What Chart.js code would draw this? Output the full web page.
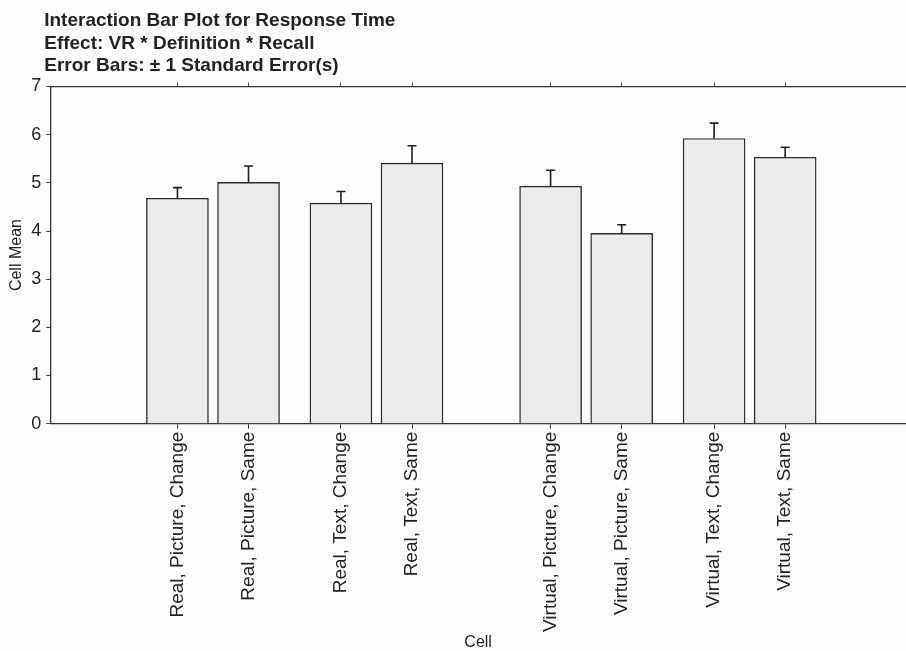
<!DOCTYPE html>
<html>
<head>
<meta charset="utf-8">
<script src="https://cdn.jsdelivr.net/npm/chart.js@4"></script>
<style>
  html, body { margin: 0; padding: 0; background: #fdfdfd; }
  #wrap { width: 906px; height: 651px; }
</style>
</head>
<body>
<div id="wrap"><canvas id="barChart"></canvas></div>
<script>
const titleLines = [
    'Interaction Bar Plot for Response Time',
    'Effect: VR * Definition * Recall',
    'Error Bars: \u00b1 1 Standard Error(s)'
];

// cells, in plot order
const cellLabels = [
    'Real, Picture, Change',
    'Real, Picture, Same',
    'Real, Text, Change',
    'Real, Text, Same',
    'Virtual, Picture, Change',
    'Virtual, Picture, Same',
    'Virtual, Text, Change',
    'Virtual, Text, Same'
];

// slot of each cell on the x axis (pairs, then gap between VR groups)
const cellSlots = [1, 2, 3.3, 4.3, 6.25, 7.25, 8.55, 9.55];

const cellMeans = [4.68, 5.01, 4.58, 5.41, 4.93, 3.95, 5.92, 5.53];
const cellStdErr = [0.22, 0.34, 0.24, 0.36, 0.33, 0.18, 0.32, 0.21];

const yTicks = [0, 1, 2, 3, 4, 5, 6, 7];

const FONT = "'Liberation Sans', Arial, sans-serif";
const INK = '#222222';

// upper error bars, drawn through the chart's scales
const errorBars = {
    id: 'errorBars',
    afterDatasetsDraw(chart) {
        const ctx = chart.ctx;
        const xs = chart.scales.x;
        const ys = chart.scales.y;
        ctx.save();
        ctx.strokeStyle = '#1e1e1e';
        ctx.lineWidth = 1.6;
        for (let i = 0; i < cellMeans.length; i++) {
            const x = xs.getPixelForValue(cellSlots[i]);
            const y0 = ys.getPixelForValue(cellMeans[i]);
            const y1 = ys.getPixelForValue(cellMeans[i] + cellStdErr[i]);
            ctx.beginPath();
            ctx.moveTo(x, y0);
            ctx.lineTo(x, y1);
            ctx.moveTo(x - 4.5, y1);
            ctx.lineTo(x + 4.5, y1);
            ctx.stroke();
        }
        ctx.restore();
    }
};

// title sits a little left of the plot frame
const titleShift = {
    id: 'titleShift',
    afterLayout(chart) {
        if (chart.titleBlock) chart.titleBlock.left -= 6;
    }
};

function slotTicks(scale) {
    scale.ticks = cellSlots.map(v => ({ value: v }));
}

const ctx = document.getElementById('barChart').getContext('2d');
new Chart(ctx, {
    type: 'bar',
    data: {
        datasets: [{
            data: cellMeans.map((m, i) => ({ x: cellSlots[i], y: m })),
            backgroundColor: '#ebebeb',
            borderColor: '#2a2a2a',
            borderWidth: 1.4,
            barThickness: 62
        }]
    },
    options: {
        responsive: true,
        maintainAspectRatio: false,
        animation: false,
        layout: { padding: { left: 3, right: 0, top: 0, bottom: 0 } },
        plugins: {
            legend: { display: false },
            tooltip: { enabled: false },
            title: {
                display: true,
                text: titleLines,
                align: 'start',
                fullSize: false,
                color: INK,
                font: { family: FONT, size: 19, weight: 'bold', lineHeight: 1.184 },
                padding: { top: 10, bottom: 5 }
            }
        },
        scales: {
            x: {
                type: 'linear',
                min: -0.79,
                max: 11.25,
                offset: false,
                afterBuildTicks: slotTicks,
                border: { display: true, color: '#333', width: 1.3 },
                grid: { display: true, offset: false, drawOnChartArea: false, drawTicks: true, tickLength: 5, color: '#333' },
                ticks: {
                    autoSkip: false,
                    minRotation: 90,
                    maxRotation: 90,
                    padding: 3,
                    color: INK,
                    font: { family: FONT, size: 19 },
                    callback: (value) => cellLabels[cellSlots.indexOf(value)]
                },
                title: {
                    display: true,
                    text: 'Cell',
                    color: INK,
                    font: { family: FONT, size: 16, lineHeight: 1.0 },
                    padding: { top: 0, bottom: 0 }
                }
            },
            xTop: {
                type: 'linear',
                position: 'top',
                min: -0.79,
                max: 11.25,
                offset: false,
                afterBuildTicks: slotTicks,
                border: { display: true, color: '#333', width: 1.3 },
                grid: { display: true, offset: false, drawOnChartArea: false, drawTicks: true, tickLength: 4, color: '#555' },
                ticks: { display: false }
            },
            y: {
                min: 0,
                max: 7,
                afterBuildTicks: (scale) => {
                    const t = [];
                    yTicks.forEach(v => {
                        t.push({ value: v });
                        if (v < 7) t.push({ value: v + 0.5 });
                    });
                    scale.ticks = t;
                },
                border: { display: true, color: '#333', width: 1.3 },
                grid: { display: true, drawOnChartArea: false, drawTicks: true, tickLength: 4, color: '#444' },
                ticks: {
                    padding: 5,
                    color: INK,
                    font: { family: FONT, size: 18 },
                    callback: (value) => (yTicks.includes(value) ? String(value) : '')
                },
                title: {
                    display: true,
                    text: 'Cell Mean',
                    color: INK,
                    font: { family: FONT, size: 16 },
                    padding: { top: 4, bottom: 0 }
                }
            }
        }
    },
    plugins: [errorBars, titleShift]
});
</script>
</body>
</html>
